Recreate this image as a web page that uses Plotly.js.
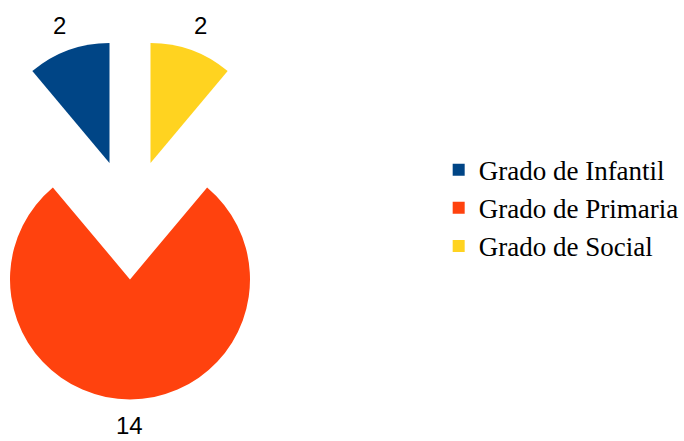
<!DOCTYPE html>
<html>
<head>
<meta charset="utf-8">
<script src="https://cdn.plot.ly/plotly-3.0.1.min.js"></script>
<style>
  html, body { margin: 0; padding: 0; overflow: hidden; background: #ffffff; }
  #chart { position: absolute; left: -50px; top: 0; width: 734px; height: 441px; }
</style>
</head>
<body>
<div id="chart"></div>
<script>
const categories = ["Grado de Infantil", "Grado de Primaria", "Grado de Social"];
const values = [2, 14, 2];
const colors = ["#004586", "#ff420e", "#ffd320"];

// layout constants
const W = 734, H = 441;
const domX = [0, 0.4918], domY = [0.0943, 0.9107];
const pullFrac = 0.5;
const rotation = -40;
const labelGap = 1.22; // label distance beyond slice centre, in radii

const trace = {
  type: "pie",
  labels: categories,
  values: values,
  sort: false,
  direction: "counterclockwise",
  rotation: rotation,
  pull: values.map(() => pullFrac),
  marker: { colors: colors, line: { width: 0 } },
  textinfo: "none",
  hoverinfo: "label+value",
  domain: { x: domX, y: domY }
};

// value labels placed along each slice's mid-angle (same geometry Plotly uses)
const boxW = W * (domX[1] - domX[0]);
const boxH = H * (domY[1] - domY[0]);
const r = Math.min(boxW, boxH) / (2 + 2 * pullFrac);
const cx = W * (domX[0] + domX[1]) / 2;
const cy = H * (1 - domY[0]) - boxH / 2;
const total = values.reduce((a, b) => a + b, 0);
let cur = rotation + values[0] / total * 360;
const annotations = values.map((v, i) => {
  const span = v / total * 360;
  const mid = (cur - span / 2) * Math.PI / 180;
  cur -= span;
  const D = r * pullFrac + r * labelGap;
  const sx = cx + D * Math.sin(mid);
  const sy = cy - D * Math.cos(mid);
  return {
    x: sx / W, y: 1 - sy / H, xref: "paper", yref: "paper",
    xanchor: "center", yanchor: "middle", showarrow: false,
    text: String(v),
    font: { family: "Liberation Sans, Arial, sans-serif", size: 24, color: "#000000" }
  };
});

const layout = {
  width: W,
  height: H,
  margin: { l: 0, r: 0, t: 0, b: 0 },
  paper_bgcolor: "#ffffff",
  showlegend: true,
  annotations: annotations,
  legend: {
    x: 0.6676, xanchor: "left",
    y: 0.528, yanchor: "middle",
    font: { family: "Liberation Serif, Times New Roman, serif", size: 27, color: "#000000" },
    bgcolor: "rgba(0,0,0,0)",
    itemclick: false
  }
};

Plotly.newPlot("chart", [trace], layout, { displayModeBar: false, staticPlot: true });
</script>
</body>
</html>
